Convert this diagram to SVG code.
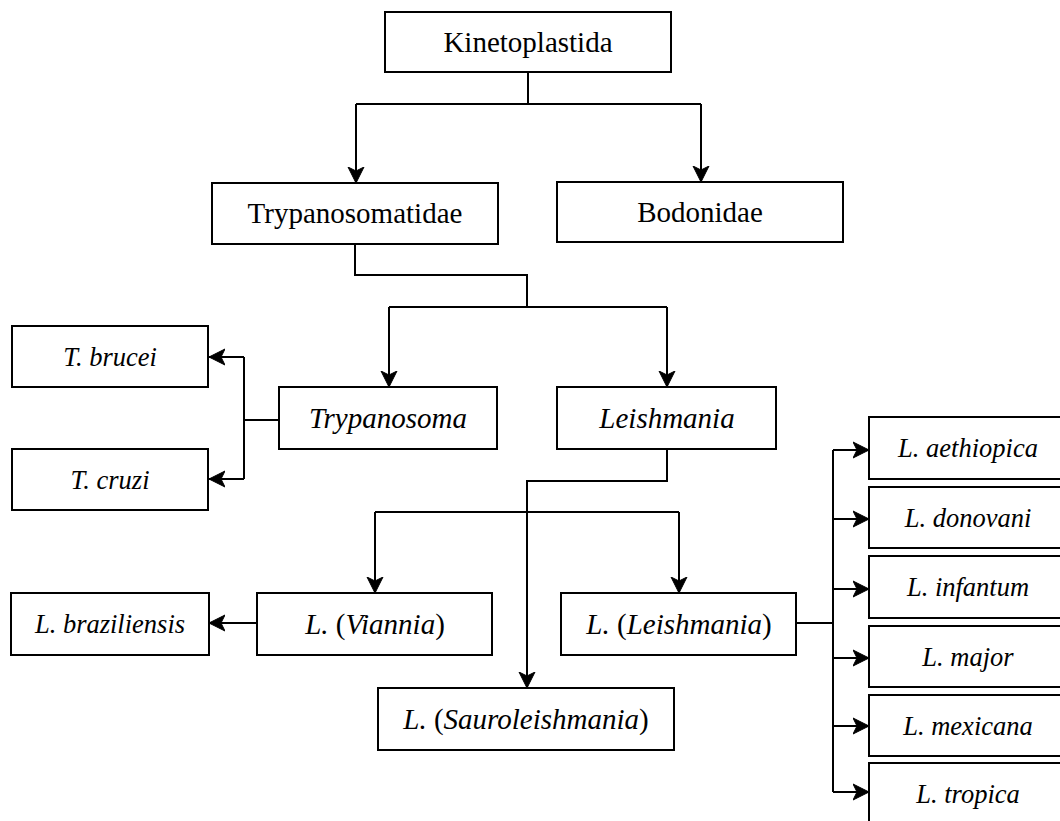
<svg xmlns="http://www.w3.org/2000/svg" width="1060" height="821" viewBox="0 0 1060 821">
<style>
.box{fill:#fff;stroke:#000;stroke-width:2}
.t{font-family:"Liberation Serif","Times New Roman",serif;font-size:29px;text-anchor:middle;fill:#000}
.s{font-size:26.5px}
.i{font-style:italic}
.n{font-style:normal}
.c{fill:none;stroke:#000;stroke-width:2}
</style>
<defs>
<marker id="ah" viewBox="0 0 16 18" refX="16" refY="9" markerWidth="16" markerHeight="18" markerUnits="userSpaceOnUse" orient="auto">
<path d="M0,1 L16,9 L0,17 L4,9 Z" fill="#000" stroke="#000" stroke-width="1" stroke-linejoin="miter"/>
</marker>
</defs>
<rect width="1060" height="821" fill="#fff"/>
<g id="connectors">
<path class="c" d="M528,72 V104 M356,104 H701"/>
<path class="c" d="M356,104 V183" marker-end="url(#ah)"/>
<path class="c" d="M701,104 V182" marker-end="url(#ah)"/>
<path class="c" d="M355,244 V275 H527 V307 M389,307 H667"/>
<path class="c" d="M389,307 V387" marker-end="url(#ah)"/>
<path class="c" d="M667,307 V387" marker-end="url(#ah)"/>
<path class="c" d="M279,420 H244 M244,357 V479"/>
<path class="c" d="M244,357 H209" marker-end="url(#ah)"/>
<path class="c" d="M244,479 H209" marker-end="url(#ah)"/>
<path class="c" d="M667,449 V481 H527 V688" marker-end="url(#ah)"/>
<path class="c" d="M375,512 H679"/>
<path class="c" d="M375,512 V593" marker-end="url(#ah)"/>
<path class="c" d="M679,512 V593" marker-end="url(#ah)"/>
<path class="c" d="M257,623 H209" marker-end="url(#ah)"/>
<path class="c" d="M796,623 H833 M833,450 V792"/>
<path class="c" d="M833,450 H869" marker-end="url(#ah)"/>
<path class="c" d="M833,519 H869" marker-end="url(#ah)"/>
<path class="c" d="M833,589 H869" marker-end="url(#ah)"/>
<path class="c" d="M833,658 H869" marker-end="url(#ah)"/>
<path class="c" d="M833,726 H869" marker-end="url(#ah)"/>
<path class="c" d="M833,792 H869" marker-end="url(#ah)"/>
</g>
<g id="kinetoplastida"><rect class="box" x="385" y="12" width="286" height="60"/><text class="t" x="528" y="52">Kinetoplastida</text></g>
<g id="trypanosomatidae"><rect class="box" x="212" y="183" width="286" height="61"/><text class="t" x="355" y="223">Trypanosomatidae</text></g>
<g id="bodonidae"><rect class="box" x="557" y="182" width="286" height="60"/><text class="t" x="700" y="222">Bodonidae</text></g>
<g id="trypanosoma"><rect class="box" x="279" y="387" width="218" height="62"/><text class="t i" x="388" y="428">Trypanosoma</text></g>
<g id="leishmania"><rect class="box" x="557" y="387" width="219" height="62"/><text class="t i" x="667" y="428">Leishmania</text></g>
<g id="tbrucei"><rect class="box" x="12" y="326" width="196" height="61"/><text class="t s i" x="110" y="366">T. brucei</text></g>
<g id="tcruzi"><rect class="box" x="12" y="449" width="196" height="61"/><text class="t s i" x="110" y="489">T. cruzi</text></g>
<g id="lbraziliensis"><rect class="box" x="11" y="593" width="198" height="62"/><text class="t s i" x="110" y="633">L. braziliensis</text></g>
<g id="lviannia"><rect class="box" x="257" y="593" width="235" height="62"/><text class="t i" x="375" y="634">L. <tspan class="n">(</tspan>Viannia<tspan class="n">)</tspan></text></g>
<g id="lleishmania"><rect class="box" x="561" y="593" width="235" height="62"/><text class="t i" x="679" y="634">L. <tspan class="n">(</tspan>Leishmania<tspan class="n">)</tspan></text></g>
<g id="lsauroleishmania"><rect class="box" x="378" y="688" width="296" height="62"/><text class="t i" x="526" y="729">L. <tspan class="n">(</tspan>Sauroleishmania<tspan class="n">)</tspan></text></g>
<g id="laethiopica"><rect class="box" x="869" y="417" width="198" height="62"/><text class="t s i" x="968" y="457">L. aethiopica</text></g>
<g id="ldonovani"><rect class="box" x="869" y="487" width="198" height="61"/><text class="t s i" x="968" y="527">L. donovani</text></g>
<g id="linfantum"><rect class="box" x="869" y="556" width="198" height="62"/><text class="t s i" x="968" y="596">L. infantum</text></g>
<g id="lmajor"><rect class="box" x="869" y="626" width="198" height="61"/><text class="t s i" x="968" y="666">L. major</text></g>
<g id="lmexicana"><rect class="box" x="869" y="695" width="198" height="61"/><text class="t s i" x="968" y="735">L. mexicana</text></g>
<g id="ltropica"><rect class="box" x="869" y="763" width="198" height="62"/><text class="t s i" x="968" y="803">L. tropica</text></g>
</svg>
